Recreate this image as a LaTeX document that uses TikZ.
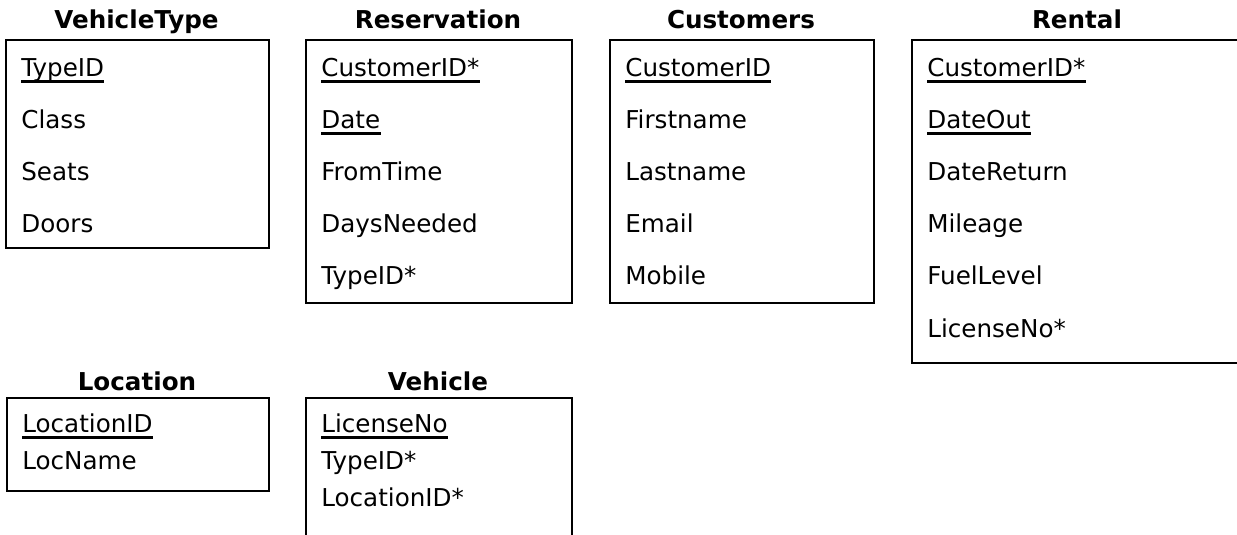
\documentclass[tikz,border=0pt]{standalone}
\usepackage{fontspec}
\setmainfont{DejaVu Sans}
\usetikzlibrary{positioning,calc}

\begin{document}
\begin{tikzpicture}[
    tbl/.style={rectangle, draw, line width=1.4pt, inner sep=0pt, anchor=north west},
    ttl/.style={font=\fontsize{14}{17}\selectfont\bfseries, anchor=base, inner sep=0pt},
    fld/.style={font=\fontsize{14}{17}\selectfont, anchor=base west, inner sep=0pt},
    uline/.style={line width=1.2pt}
]
\clip (0,0) rectangle (24.74,-10.68);

% VehicleType table
\node[ttl] (vt_title) at (2.73,-0.56) {VehicleType};
\node[tbl, minimum width=5.26cm, minimum height=4.16cm] (vt_box) at (0.10,-0.78) {};
\node[fld] (vt_id) at (0.42,-1.52) {TypeID};
\node[fld] (vt_class) at (0.42,-2.56) {Class};
\node[fld] (vt_seats) at (0.42,-3.60) {Seats};
\node[fld] (vt_doors) at (0.42,-4.64) {Doors};
\draw[uline] ([yshift=-0.11cm]vt_id.base west) -- ([yshift=-0.11cm]vt_id.base east);

% Reservation table
\node[ttl] (res_title) at (8.76,-0.56) {Reservation};
\node[tbl, minimum width=5.32cm, minimum height=5.26cm] (res_box) at (6.10,-0.78) {};
\node[fld] (res_cust) at (6.42,-1.52) {CustomerID*};
\node[fld] (res_date) at (6.42,-2.56) {Date};
\node[fld] (res_from) at (6.42,-3.60) {FromTime};
\node[fld] (res_days) at (6.42,-4.64) {DaysNeeded};
\node[fld] (res_type) at (6.42,-5.68) {TypeID*};
\draw[uline] ([yshift=-0.11cm]res_cust.base west) -- ([yshift=-0.11cm]res_cust.base east);
\draw[uline] ([yshift=-0.11cm]res_date.base west) -- ([yshift=-0.11cm]res_date.base east);

% Customers table
\node[ttl] (cust_title) at (14.82,-0.56) {Customers};
\node[tbl, minimum width=5.28cm, minimum height=5.26cm] (cust_box) at (12.18,-0.78) {};
\node[fld] (cust_id) at (12.50,-1.52) {CustomerID};
\node[fld] (cust_first) at (12.50,-2.56) {Firstname};
\node[fld] (cust_last) at (12.50,-3.60) {Lastname};
\node[fld] (cust_mail) at (12.50,-4.64) {Email};
\node[fld] (cust_mob) at (12.50,-5.68) {Mobile};
\draw[uline] ([yshift=-0.11cm]cust_id.base west) -- ([yshift=-0.11cm]cust_id.base east);

% Rental table (runs past the right edge)
\node[ttl] (rent_title) at (21.54,-0.56) {Rental};
\node[tbl, minimum width=6.64cm, minimum height=6.46cm] (rent_box) at (18.22,-0.78) {};
\node[fld] (rent_cust) at (18.54,-1.52) {CustomerID*};
\node[fld] (rent_out) at (18.54,-2.56) {DateOut};
\node[fld] (rent_ret) at (18.54,-3.60) {DateReturn};
\node[fld] (rent_mile) at (18.54,-4.64) {Mileage};
\node[fld] (rent_fuel) at (18.54,-5.68) {FuelLevel};
\node[fld] (rent_lic) at (18.54,-6.74) {LicenseNo*};
\draw[uline] ([yshift=-0.11cm]rent_cust.base west) -- ([yshift=-0.11cm]rent_cust.base east);
\draw[uline] ([yshift=-0.11cm]rent_out.base west) -- ([yshift=-0.11cm]rent_out.base east);

% Location table
\node[ttl] (loc_title) at (2.74,-7.80) {Location};
\node[tbl, minimum width=5.24cm, minimum height=1.86cm] (loc_box) at (0.12,-7.94) {};
\node[fld] (loc_id) at (0.44,-8.64) {LocationID};
\node[fld] (loc_name) at (0.44,-9.38) {LocName};
\draw[uline] ([yshift=-0.11cm]loc_id.base west) -- ([yshift=-0.11cm]loc_id.base east);

% Vehicle table (runs past the bottom edge)
\node[ttl] (veh_title) at (8.76,-7.80) {Vehicle};
\node[tbl, minimum width=5.32cm, minimum height=3.2cm] (veh_box) at (6.10,-7.94) {};
\node[fld] (veh_lic) at (6.42,-8.64) {LicenseNo};
\node[fld] (veh_type) at (6.42,-9.38) {TypeID*};
\node[fld] (veh_loc) at (6.42,-10.12) {LocationID*};
\draw[uline] ([yshift=-0.11cm]veh_lic.base west) -- ([yshift=-0.11cm]veh_lic.base east);

\end{tikzpicture}
\end{document}
